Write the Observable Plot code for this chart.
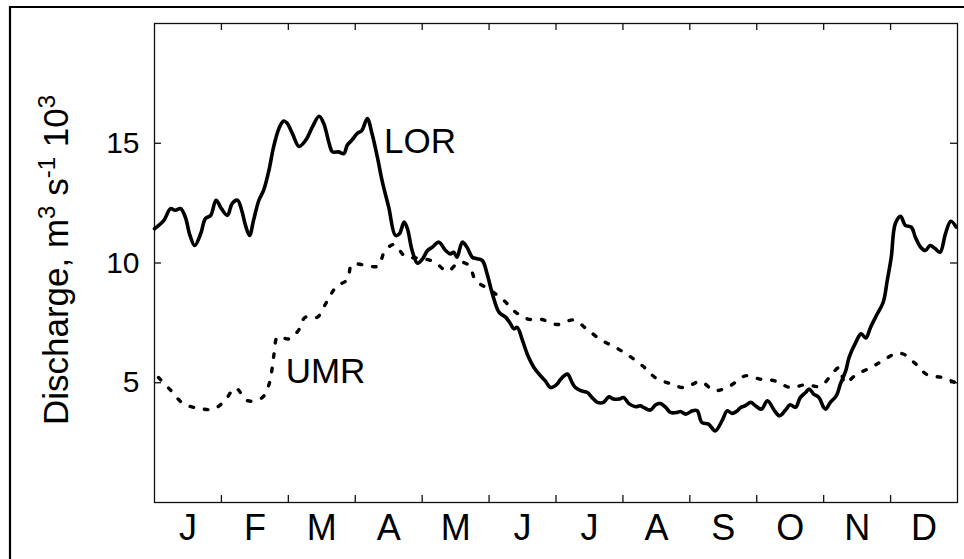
<!DOCTYPE html>
<html>
<head>
<meta charset="utf-8">
<script src="https://cdn.jsdelivr.net/npm/d3@7"></script>
<script src="https://cdn.jsdelivr.net/npm/@observablehq/plot@0.6"></script>
<style>
  html, body { margin: 0; padding: 0; background: #fff; }
  #chart { position: relative; width: 964px; height: 559px; overflow: hidden; }
  #chart svg { display: block; }
</style>
</head>
<body>
<div id="chart"></div>
<script>
// Month initials (labels sit mid-month) and month boundaries (tick marks)
const monthLabels = ["J", "F", "M", "A", "M", "J", "J", "A", "S", "O", "N", "D"];
const monthCenters = [0.5, 1.5, 2.5, 3.5, 4.5, 5.5, 6.5, 7.5, 8.5, 9.5, 10.5, 11.5];
const monthBounds = [1, 2, 3, 4, 5, 6, 7, 8, 9, 10, 11];
const yTicks = [5, 10, 15];

// LOR daily-mean discharge (10^3 m^3/s), time in months from 1 January
const lorMonth = [
  0.00, 0.14, 0.24, 0.31, 0.39, 0.46, 0.53, 0.60, 0.69, 0.76, 0.84, 0.92,
  1.00, 1.09, 1.16, 1.24, 1.31, 1.36, 1.42, 1.48, 1.56, 1.63, 1.71, 1.78,
  1.86, 1.93, 1.98, 2.06, 2.16, 2.26, 2.36, 2.46, 2.53, 2.61, 2.66, 2.75,
  2.83, 2.88, 2.95, 3.03, 3.10, 3.18, 3.25, 3.33, 3.40, 3.50, 3.60, 3.66,
  3.73, 3.78, 3.85, 3.93, 4.00, 4.08, 4.15, 4.25, 4.35, 4.42, 4.47, 4.52,
  4.60, 4.67, 4.75, 4.82, 4.90, 4.97, 5.05, 5.15, 5.25, 5.32, 5.37, 5.42,
  5.50, 5.57, 5.67, 5.77, 5.84, 5.92, 6.02, 6.07, 6.17, 6.24, 6.29, 6.37,
  6.47, 6.54, 6.62, 6.71, 6.79, 6.86, 6.94, 7.01, 7.09, 7.19, 7.26, 7.31,
  7.41, 7.49, 7.56, 7.64, 7.71, 7.81, 7.86, 7.94, 8.04, 8.11, 8.18, 8.28,
  8.38, 8.48, 8.56, 8.63, 8.71, 8.76, 8.83, 8.91, 8.98, 9.07, 9.16, 9.26,
  9.34, 9.43, 9.50, 9.58, 9.65, 9.73, 9.78, 9.85, 9.93, 10.00, 10.03, 10.10,
  10.19, 10.25, 10.33, 10.38, 10.48, 10.56, 10.63, 10.70, 10.80, 10.89, 10.95, 11.01,
  11.07, 11.15, 11.22, 11.31, 11.37, 11.45, 11.52, 11.59, 11.67, 11.74, 11.82, 11.90,
  11.98
];
const lorValue = [
  11.43, 11.78, 12.27, 12.20, 12.27, 11.92, 11.15, 10.73, 11.22, 11.85, 11.99, 12.62,
  12.27, 11.99, 12.48, 12.62, 12.13, 11.57, 11.15, 11.78, 12.62, 13.03, 13.87, 14.85,
  15.62, 15.93, 15.85, 15.41, 14.87, 15.13, 15.68, 16.13, 15.82, 14.99, 14.64, 14.64,
  14.57, 14.92, 15.13, 15.41, 15.54, 16.03, 15.41, 14.43, 13.45, 12.33, 11.15, 11.22,
  11.71, 11.43, 10.52, 9.99, 10.15, 10.52, 10.66, 10.87, 10.52, 10.38, 10.45, 10.24,
  10.87, 10.66, 10.24, 10.18, 10.10, 9.55, 8.71, 7.94, 7.73, 7.46, 7.25, 7.31,
  6.76, 6.20, 5.64, 5.29, 5.08, 4.80, 4.95, 5.15, 5.36, 5.01, 4.80, 4.67,
  4.59, 4.38, 4.18, 4.18, 4.41, 4.32, 4.32, 4.38, 4.13, 4.00, 4.04, 3.97,
  3.86, 4.08, 4.13, 3.97, 3.76, 3.76, 3.80, 3.69, 3.83, 3.83, 3.34, 3.27,
  2.99, 3.41, 3.83, 3.72, 3.83, 3.97, 4.04, 4.18, 4.04, 3.90, 4.25, 3.86,
  3.62, 3.86, 4.08, 3.97, 4.38, 4.59, 4.74, 4.53, 4.38, 3.97, 3.90, 4.18,
  4.46, 4.95, 5.50, 6.06, 6.69, 7.04, 6.87, 7.31, 7.87, 8.36, 9.27, 10.24,
  11.64, 11.95, 11.57, 11.50, 11.08, 10.66, 10.52, 10.73, 10.59, 10.45, 11.22, 11.74,
  11.50
];

// UMR daily-mean discharge (10^3 m^3/s)
const umrMonth = [
  0.06, 0.24, 0.43, 0.65, 0.88, 1.05, 1.21, 1.39, 1.61, 1.72, 1.76, 1.79,
  1.84, 2.01, 2.15, 2.25, 2.43, 2.57, 2.72, 2.88, 2.95, 3.13, 3.34, 3.44,
  3.58, 3.75, 3.98, 4.18, 4.38, 4.55, 4.70, 4.80, 5.00, 5.21, 5.40, 5.58,
  5.79, 6.02, 6.26, 6.46, 6.67, 6.90, 7.11, 7.33, 7.49, 7.71, 7.92, 8.16,
  8.37, 8.60, 8.83, 9.05, 9.27, 9.50, 9.73, 9.95, 10.10, 10.23, 10.32, 10.48,
  10.70, 10.87, 11.07, 11.19, 11.37, 11.55, 11.79, 11.97
];
const umrValue = [
  5.22, 4.69, 4.13, 3.94, 3.90, 4.25, 4.78, 4.25, 4.38, 5.01, 5.64, 6.27,
  6.92, 6.83, 7.18, 7.73, 7.73, 8.36, 9.02, 9.30, 9.94, 9.92, 9.87, 10.49,
  10.77, 10.27, 10.20, 10.05, 9.66, 10.03, 9.90, 9.27, 8.90, 8.46, 7.94, 7.66,
  7.64, 7.43, 7.62, 7.24, 6.79, 6.46, 6.09, 5.62, 5.20, 4.96, 4.80, 5.05,
  4.67, 4.87, 5.29, 5.15, 5.08, 4.80, 4.92, 4.85, 5.27, 5.63, 4.99, 5.33,
  5.63, 5.90, 6.21, 6.20, 5.80, 5.33, 5.21, 5.00
];

const W = 964, H = 559;
const mL = 154, mT = 23, mR = 7, mB = 57;
const innerW = W - mL - mR;
const innerH = H - mT - mB;
const tickLen = 7;
const font = "'Liberation Sans', Arial, Helvetica, sans-serif";

const chart = Plot.plot({
  width: W,
  height: H,
  marginLeft: mL,
  marginTop: mT,
  marginRight: mR,
  marginBottom: mB,
  style: { fontFamily: font, background: "white", color: "#000", overflow: "visible" },
  x: { domain: [0, 12] },
  y: { domain: [0, 20] },
  marks: [
    Plot.frame({ stroke: "#111", strokeWidth: 1.3 }),
    // inward tick marks on all four sides
    Plot.tickX(monthBounds, { x: d => d, insetBottom: innerH - tickLen, stroke: "#111", strokeWidth: 1.3 }),
    Plot.tickX(monthBounds, { x: d => d, insetTop: innerH - tickLen, stroke: "#111", strokeWidth: 1.3 }),
    Plot.tickY(yTicks, { y: d => d, insetRight: innerW - tickLen, stroke: "#111", strokeWidth: 1.3 }),
    Plot.tickY(yTicks, { y: d => d, insetLeft: innerW - tickLen, stroke: "#111", strokeWidth: 1.3 }),
    Plot.axisX(monthCenters, {
      tickSize: 0, tickPadding: 12, fontSize: 36, label: null,
      tickFormat: d => monthLabels[Math.floor(d)]
    }),
    Plot.axisY(yTicks, { tickSize: 0, tickPadding: 15, fontSize: 30, label: null }),
    Plot.line(umrMonth, {
      x: umrMonth, y: umrValue, curve: "catmull-rom",
      stroke: "#000", strokeWidth: 3.4, strokeDasharray: "3.5,11"
    }),
    Plot.line(lorMonth, {
      x: lorMonth, y: lorValue, curve: "catmull-rom",
      stroke: "#000", strokeWidth: 3.6, strokeLinejoin: "round", strokeLinecap: "round"
    }),
    Plot.text(["LOR"], { x: 3.43, y: 15.08, text: d => d, textAnchor: "start", fontSize: 35, fill: "#000" }),
    Plot.text(["UMR"], { x: 1.96, y: 5.46, text: d => d, textAnchor: "start", fontSize: 35, fill: "#000" })
  ]
});

document.getElementById("chart").appendChild(chart);

// Axis title with superscripts, and the outer figure border
const svg = d3.select(chart);
const title = svg.append("text")
  .attr("transform", "translate(68,260) rotate(-90)")
  .attr("text-anchor", "middle")
  .attr("font-family", font)
  .attr("font-size", 35)
  .attr("fill", "#000");
title.append("tspan").text("Discharge, m");
title.append("tspan").attr("font-size", 24).attr("dy", -13).text("3");
title.append("tspan").attr("dy", 13).text(" s");
title.append("tspan").attr("font-size", 24).attr("dy", -13).text("-1");
title.append("tspan").attr("dy", 13).text(" 10");
title.append("tspan").attr("font-size", 24).attr("dy", -13).text("3");

svg.append("path")
  .attr("d", `M10,${H + 2} V7 H${W + 2}`)
  .attr("fill", "none")
  .attr("stroke", "#000")
  .attr("stroke-width", 2.2);
</script>
</body>
</html>
